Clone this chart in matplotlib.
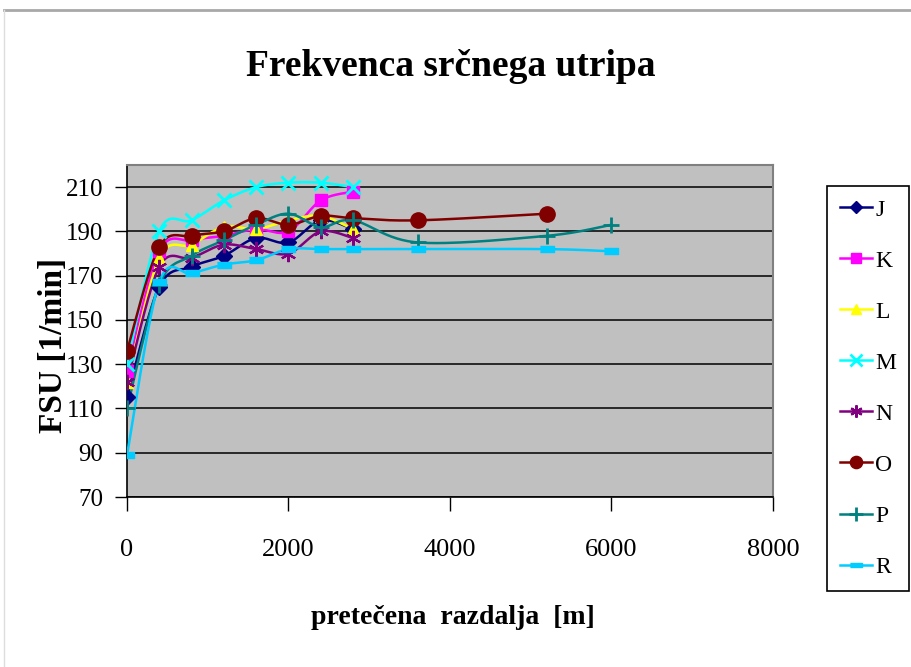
import numpy as np
import matplotlib
matplotlib.use("Agg")
from matplotlib import pyplot as plt
from matplotlib.lines import Line2D


x_main = [0, 400, 800, 1200, 1600, 2000, 2400, 2800]
x_long = [0, 400, 800, 1200, 1600, 2000, 2400, 2800, 3600, 5200, 6000]
x_o = [0, 400, 800, 1200, 1600, 2000, 2400, 2800, 3600, 5200]

fsu_j = [115, 165, 174, 179, 187, 185, 195, 191]
fsu_k = [127, 181, 186, 188, 191, 190, 204, 208]
fsu_l = [122, 178, 184, 192, 191, 195, 197, 191]
fsu_m = [130, 190, 195, 204, 210, 212, 212, 210]
fsu_n = [122, 174, 178, 184, 182, 180, 190, 187]
fsu_o = [136, 183, 188, 190, 196, 193, 197, 196, 195, 198]
fsu_p = [110, 166, 179, 186, 193, 198, 192, 195, 185, 188, 193]
fsu_r = [89, 167, 171, 175, 177, 182, 182, 182, 182, 182, 181]

labels = ["J", "K", "L", "M", "N", "O", "P", "R"]
x_ticks = [0, 2000, 4000, 6000, 8000]
y_ticks = [70, 90, 110, 130, 150, 170, 190, 210]


def smooth(xs, ys, n=30):
    # excel-like smoothed line: cubic bezier through the points
    p = np.column_stack([xs, ys]).astype(float)
    ext = np.vstack([p[0], p, p[-1]])
    out = [p[:1]]
    t = np.linspace(0, 1, n)[1:, None]
    for i in range(len(p) - 1):
        p0, p3 = ext[i + 1], ext[i + 2]
        c1 = p0 + (ext[i + 2] - ext[i]) / 6
        c2 = p3 - (ext[i + 3] - ext[i + 1]) / 6
        seg = ((1 - t) ** 3) * p0 + 3 * ((1 - t) ** 2) * t * c1 + 3 * (1 - t) * t ** 2 * c2 + t ** 3 * p3
        out.append(seg)
    s = np.vstack(out)
    return s[:, 0], s[:, 1]


plt.rcParams["font.family"] = ["Liberation Serif", "DejaVu Serif"]

fig = plt.figure(figsize=(9.12, 6.67), dpi=100)
ax = fig.add_axes([127 / 912, 1 - 497 / 667, 646 / 912, 332 / 667])
ax.set_facecolor("#C0C0C0")

bar = [(-1, -0.4), (1, -0.4), (1, 0.4), (-1, 0.4)]
series = [
    (x_main, fsu_j, "#000080", "D", 8, 1),
    (x_main, fsu_k, "#FF00FF", "s", 9, 1),
    (x_main, fsu_l, "#FFFF00", "^", 9, 1),
    (x_main, fsu_m, "#00FFFF", "x", 10, 2),
    (x_main, fsu_n, "#800080", (6, 2, 0), 11, 1.6),
    (x_o, fsu_o, "#800000", "o", 11, 1),
    (x_long, fsu_p, "#008080", "+", 12, 2),
    (x_long, fsu_r, "#00CCFF", bar, 10, 1),
]

handles = []
for (xs, ys, col, mk, ms, mew), lab in zip(series, labels):
    sx, sy = smooth(xs, ys)
    ax.plot(sx, sy, color=col, lw=1.8, zorder=3)
    ax.plot(xs, ys, ls="none", marker=mk, ms=ms, color=col, mec=col, mew=mew, zorder=4)
    handles.append(Line2D([], [], color=col, lw=1.8, marker=mk, ms=ms * 0.8, mec=col, mew=mew))

ax.set_xlim(0, 8000)
ax.set_ylim(70, 220)
ax.set_xticks(x_ticks)
ax.set_yticks(y_ticks)
ax.yaxis.grid(True, color="black", lw=1.1)
ax.set_axisbelow(True)
ax.tick_params(direction="out", length=9, width=1, labelsize=18, pad=8, color="black")
ax.tick_params(axis="x", length=10, pad=20, labelsize=19)

for side in ["left", "bottom"]:
    ax.spines[side].set_color("black")
    ax.spines[side].set_linewidth(1.2)
for side in ["top", "right"]:
    ax.spines[side].set_color("#808080")
    ax.spines[side].set_linewidth(1.5)

fig.text(451 / 912, 1 - 66 / 667, "Frekvenca srčnega utripa", ha="center", va="center",
         fontsize=27, fontweight="bold")
fig.text(453 / 912, 1 - 618 / 667, "pretečena  razdalja  [m]", ha="center", va="center",
         fontsize=20, fontweight="bold")
fig.text(54 / 912, 1 - 345 / 667, "FSU [1/min]", ha="center", va="center", rotation=90,
         fontsize=24, fontweight="bold")

leg = fig.legend(handles, labels, loc="upper left", bbox_to_anchor=(827 / 912, 1 - 186 / 667),
                 borderaxespad=0, fontsize=17, labelspacing=1.25, handlelength=1.35,
                 handletextpad=0.15, borderpad=0.55, fancybox=False, framealpha=1)
leg.get_frame().set_edgecolor("black")
leg.get_frame().set_linewidth(1.2)

# chart area border (only top and left visible in the crop)
fig.add_artist(Line2D([4 / 912, 1], [1 - 10 / 667, 1 - 10 / 667], transform=fig.transFigure,
                      color="#A8A8A8", lw=2))
fig.add_artist(Line2D([4 / 912, 4 / 912], [0, 1 - 10 / 667], transform=fig.transFigure,
                      color="#DDDDDD", lw=1))

fig.savefig("out.png", dpi=100)
